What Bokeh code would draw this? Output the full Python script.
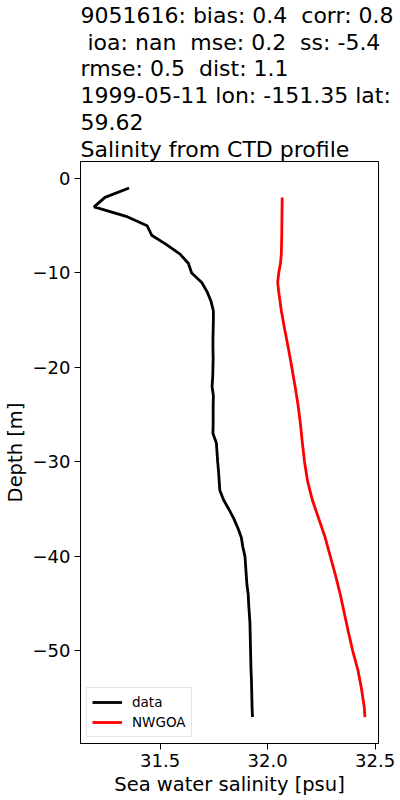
from bokeh.plotting import figure
from bokeh.models import Title, FixedTicker, Range1d
from bokeh.embed import file_html
from bokeh.resources import INLINE

# ---- data ----
obs_depth = [-1, -2, -3, -4, -5, -6, -7, -8, -9, -10, -11, -12, -13, -14, -15, -16, -17, -18, -19, -20,
             -21, -22, -23, -24, -25, -26, -27, -28, -29, -30, -31, -32, -33, -34, -35, -36, -37, -38, -39, -40,
             -41, -42, -43, -44, -45, -46, -47, -48, -49, -50, -51, -52, -53, -54, -55, -56, -57]
obs_sal = [31.356, 31.244, 31.193, 31.342, 31.440, 31.461, 31.530, 31.593, 31.632, 31.647,
           31.694, 31.719, 31.737, 31.748, 31.748, 31.747, 31.746, 31.746, 31.747, 31.746,
           31.745, 31.742, 31.748, 31.747, 31.747, 31.747, 31.746, 31.762, 31.765, 31.768,
           31.772, 31.775, 31.778, 31.795, 31.820, 31.843, 31.862, 31.878, 31.885, 31.895,
           31.898, 31.901, 31.904, 31.910, 31.912, 31.915, 31.918, 31.919, 31.920, 31.921,
           31.922, 31.923, 31.925, 31.926, 31.927, 31.928, 31.930]

mod_depth = [-2, -4, -6, -8, -9, -10, -11, -12, -14, -16, -18, -20, -22, -24, -26, -28, -30,
             -32, -34, -36, -38, -40, -42, -44, -46, -48, -50, -52, -54, -56, -57]
mod_sal = [32.068, 32.067, 32.066, 32.064, 32.060, 32.052, 32.047, 32.052, 32.064, 32.080,
           32.097, 32.113, 32.128, 32.142, 32.153, 32.162, 32.172, 32.186, 32.208, 32.238,
           32.268, 32.292, 32.316, 32.338, 32.357, 32.376, 32.396, 32.420, 32.437, 32.450, 32.453]

NB = "\u00a0"
title_lines = ["9051616: bias: 0.4" + NB + " corr: 0.8",
               NB + "ioa: nan" + NB + " mse: 0.2" + NB + " ss: -5.4",
               "rmse: 0.5" + NB + " dist: 1.1",
               "1999-05-11 lon: -151.35 lat:",
               "59.62",
               "Salinity from CTD profile"]

x_ticks = [31.5, 32.0, 32.5]
x_tick_labels = ["31.5", "32.0", "32.5"]
y_ticks = [0, -10, -20, -30, -40, -50]
y_tick_labels = ["0", "\u221210", "\u221220", "\u221230", "\u221240", "\u221250"]

FONT = "DejaVu Sans"

p = figure(width=400, height=800, output_backend="svg", toolbar_location=None,
           x_range=Range1d(31.13, 32.516), y_range=Range1d(-59.8, 1.8),
           min_border_left=80, min_border_right=22, min_border_top=0, min_border_bottom=57)
p.title.visible = False

p.add_layout(Title(text="\n".join(title_lines), align="left", text_font=FONT,
                   text_font_size="22px", text_font_style="normal", text_color="black",
                   text_line_height=1.07, standoff=0, offset=0), "above")

p.line(obs_sal, obs_depth, line_color="black", line_width=2.8, legend_label="data")
p.line(mod_sal, mod_depth, line_color="red", line_width=2.8, legend_label="NWGOA")

p.xgrid.visible = False
p.ygrid.visible = False
p.outline_line_color = "black"
p.outline_line_alpha = 1.0
p.outline_line_width = 1

for ax in (p.xaxis[0], p.yaxis[0]):
    ax.major_label_text_font = FONT
    ax.major_label_text_font_size = "18px"
    ax.major_label_text_color = "black"
    ax.axis_label_text_font = FONT
    ax.axis_label_text_font_size = "19.5px"
    ax.axis_label_text_font_style = "normal"
    ax.axis_label_text_color = "black"
    ax.minor_tick_line_color = None
    ax.major_tick_in = 0
    ax.major_tick_out = 6
    ax.major_tick_line_color = "black"
    ax.axis_line_color = "black"
    ax.major_label_standoff = 4
    ax.axis_label_standoff = 3

p.xaxis[0].ticker = FixedTicker(ticks=x_ticks)
p.xaxis[0].major_label_overrides = {t: l for t, l in zip(x_ticks, x_tick_labels)}
p.xaxis[0].axis_label = "Sea water salinity [psu]"
p.yaxis[0].ticker = FixedTicker(ticks=y_ticks)
p.yaxis[0].major_label_overrides = {t: l for t, l in zip(y_ticks, y_tick_labels)}
p.yaxis[0].axis_label = "Depth [m]"

lg = p.legend[0]
lg.location = "bottom_left"
lg.margin = 6
lg.padding = 5
lg.spacing = 2
lg.glyph_width = 30
lg.glyph_height = 18
lg.label_height = 18
lg.label_standoff = 10
lg.label_text_font = FONT
lg.label_text_font_size = "13.5px"
lg.label_text_color = "black"
lg.border_line_color = "#cccccc"
lg.border_line_width = 1
lg.background_fill_alpha = 0.8

open("out.html", "w").write(file_html(p, INLINE))
